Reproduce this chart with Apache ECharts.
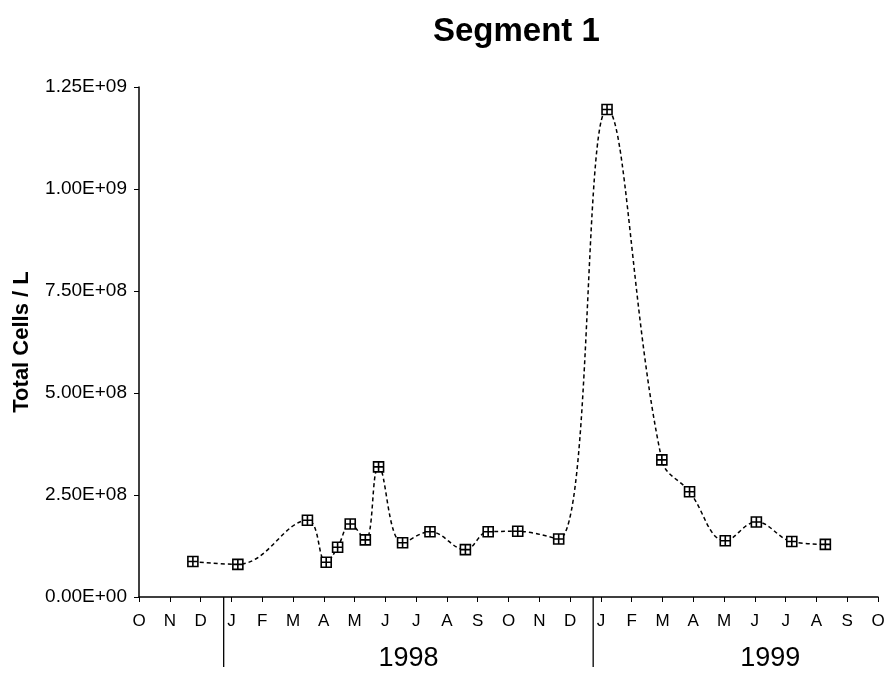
<!DOCTYPE html>
<html>
<head>
<meta charset="utf-8">
<script src="https://cdn.jsdelivr.net/npm/echarts@6/dist/echarts.min.js"></script>
<style>html,body{margin:0;padding:0;background:#fff;}#c{width:889px;height:680px;}</style>
</head>
<body>
<div id="c"></div>
<script>
// Month tick labels, Oct 1997 .. Oct 1999 (index 0..24)
const monthLetters = ['O','N','D','J','F','M','A','M','J','J','A','S','O','N','D','J','F','M','A','M','J','J','A','S','O'];
// Sampling dates as month index (0 = Oct 1997)
const sampleMonth = [1.75, 3.21, 5.47, 6.08, 6.45, 6.86, 7.35, 7.78, 8.56, 9.45, 10.6, 11.34, 12.3, 13.63, 15.2, 16.98, 17.88, 19.04, 20.05, 21.2, 22.29];
// Total cells per litre
const totalCells = [8.7e7, 8.0e7, 1.88e8, 8.5e7, 1.22e8, 1.79e8, 1.40e8, 3.19e8, 1.33e8, 1.60e8, 1.16e8, 1.60e8, 1.61e8, 1.42e8, 1.195e9, 3.36e8, 2.58e8, 1.38e8, 1.84e8, 1.36e8, 1.29e8];
// Year labels and dividers (in month-index units)
const yearNames = ['1998', '1999'];
const yearCenters = [8.75, 20.5];
const yearDividers = [2.75, 14.75];

const FONT = '"Liberation Sans", Arial, sans-serif';
function sci(v) {
  if (v === 0) return '0.00E+00';
  const e = Math.floor(Math.log10(v) + 1e-9);
  const m = v / Math.pow(10, e);
  return m.toFixed(2) + 'E+' + String(e).padStart(2, '0');
}

const chart = echarts.init(document.getElementById('c'), null, {renderer: 'canvas'});
const points = sampleMonth.map((m, i) => [m, totalCells[i]]);

chart.setOption({
  animation: false,
  backgroundColor: '#fff',
  title: {
    text: 'Segment 1',
    left: 428, top: 10,
    textStyle: {fontFamily: FONT, fontWeight: 'bold', fontSize: 33, color: '#000'}
  },
  grid: {left: 139, right: 11, top: 87, bottom: 83, containLabel: false},
  xAxis: {
    type: 'value', min: 0, max: 24, interval: 1,
    axisLine: {lineStyle: {color: '#000', width: 1.5}},
    axisTick: {length: 5, lineStyle: {color: '#000', width: 1}},
    splitLine: {show: false},
    axisLabel: {
      margin: 16, color: '#000', fontFamily: FONT, fontSize: 17,
      formatter: v => monthLetters[Math.round(v)] || ''
    }
  },
  yAxis: {
    type: 'value', min: 0, max: 1.25e9, interval: 2.5e8,
    name: 'Total Cells / L', nameLocation: 'middle', nameGap: 106,
    nameTextStyle: {fontFamily: FONT, fontWeight: 'bold', fontSize: 22, color: '#000'},
    axisLine: {show: true, lineStyle: {color: '#000', width: 1.5}},
    axisTick: {show: true, length: 5, lineStyle: {color: '#000', width: 1}},
    splitLine: {show: false},
    axisLabel: {margin: 12, color: '#000', fontFamily: FONT, fontSize: 19, formatter: sci}
  },
  series: [{
    type: 'line',
    data: points,
    smooth: 0.4,
    symbol: 'path://M0 0H10V10H0Z M5 0V10 M0 5H10',
    symbolSize: 10,
    itemStyle: {color: '#fff', borderColor: '#000', borderWidth: 1.6},
    lineStyle: {color: '#000', width: 1.5, type: [4, 3]}
  }]
});

// Year dividers and labels, placed through the axis scale
const base = chart.convertToPixel({gridIndex: 0}, [0, 0]);
const g = [];
yearDividers.forEach(d => {
  const x = chart.convertToPixel({xAxisIndex: 0}, d);
  g.push({type: 'line', shape: {x1: x, y1: base[1], x2: x, y2: base[1] + 70},
          style: {stroke: '#000', lineWidth: 1.3}});
});
yearNames.forEach((t, i) => {
  const x = chart.convertToPixel({xAxisIndex: 0}, yearCenters[i]);
  g.push({type: 'text', x: x, y: base[1] + 62,
          style: {text: t, fill: '#000', font: '27px ' + FONT, textAlign: 'center', textVerticalAlign: 'middle'}});
});
chart.setOption({graphic: g});
</script>
</body>
</html>
